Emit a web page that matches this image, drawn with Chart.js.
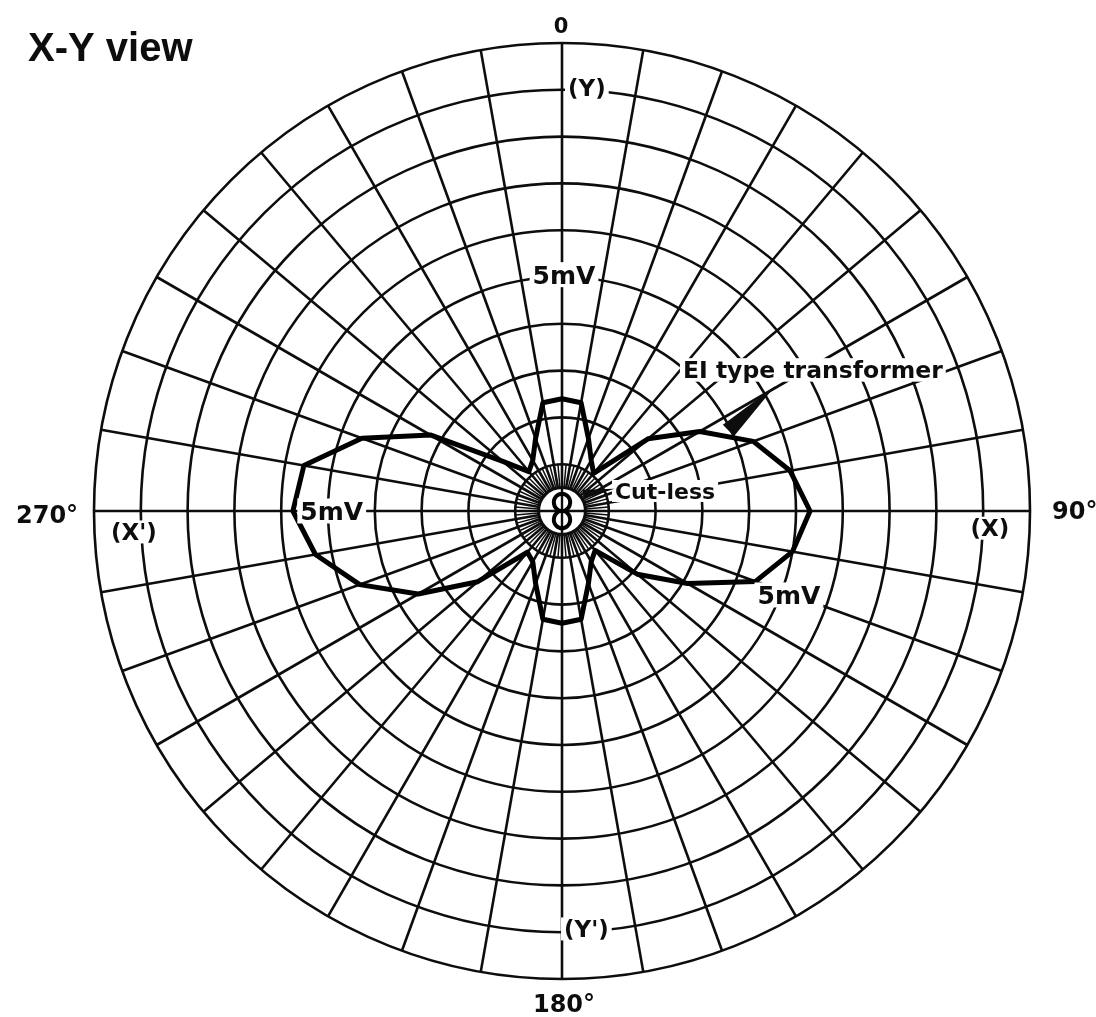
<!DOCTYPE html>
<html>
<head>
<meta charset="utf-8">
<title>X-Y view</title>
<script src="https://cdn.jsdelivr.net/npm/chart.js"></script>
<style>
  html, body { margin: 0; padding: 0; background: #fff; }
  canvas { display: block; }
</style>
</head>
<body>
<canvas id="polar" width="1096" height="1017"></canvas>
<script>
// bearing of each spoke, clockwise from the top (Y axis)
const angleLabels = ['0', '10', '20', '30', '40', '50', '60', '70', '80', '90', '100', '110',
  '120', '130', '140', '150', '160', '170', '180', '190', '200', '210', '220', '230',
  '240', '250', '260', '270', '280', '290', '300', '310', '320', '330', '340', '350'];

// leakage field in mV
const eiTransformer = [2.4, 2.35, 1.65, 1.25, 1.05, 2.4, 3.4, 4.35, 4.95, 5.3, 5.0, 4.4,
  3.1, 2.1, 1.1, 1.25, 1.65, 2.35, 2.4, 2.35, 1.65, 1.25, 1.15, 2.35,
  3.55, 4.6, 5.35, 5.75, 5.6, 4.55, 3.25, 1.65, 1.1, 1.25, 1.65, 2.35];

const cutLess = [0.37, 0.36, 0.34, 0.31, 0.27, 0.22, 0.17, 0.12, 0.07, 0.03, 0.07, 0.12,
  0.17, 0.22, 0.27, 0.31, 0.34, 0.36, 0.37, 0.36, 0.34, 0.31, 0.27, 0.22,
  0.17, 0.12, 0.07, 0.03, 0.07, 0.12, 0.17, 0.22, 0.27, 0.31, 0.34, 0.36];

const cardinalLabels = ['0', '90°', '180°', '270°'];
const axisNames = ['(Y)', '(X)', "(Y')", "(X')"];
const scaleLabel = '5mV';
const titleText = 'X-Y view';

const INK = '#0d0d0d';
const FONT = '"DejaVu Sans", sans-serif';

const label = (ctx, text, x, y, size, align, backdrop) => {
  ctx.font = 'bold ' + size + 'px ' + FONT;
  const w = ctx.measureText(text).width;
  const left = align === 'left' ? x : align === 'right' ? x - w : x - w / 2;
  if (backdrop) {
    ctx.fillStyle = '#fff';
    ctx.fillRect(left - 3, y - size * 0.5, w + 6, size);
  }
  ctx.fillStyle = INK;
  ctx.textAlign = 'left';
  ctx.textBaseline = 'alphabetic';
  ctx.fillText(text, left, y + size * 0.36);
};

const polarPoint = (scale, value, deg) => {
  const d = scale.getDistanceFromCenterForValue(value);
  const a = deg * Math.PI / 180;
  return { x: scale.xCenter + d * Math.sin(a), y: scale.yCenter - d * Math.cos(a) };
};

const wedge = (ctx, apex, base, halfWidth) => {
  const dx = apex.x - base.x, dy = apex.y - base.y;
  const len = Math.hypot(dx, dy);
  const nx = -dy / len * halfWidth, ny = dx / len * halfWidth;
  ctx.beginPath();
  ctx.moveTo(apex.x, apex.y);
  ctx.lineTo(base.x + nx, base.y + ny);
  ctx.lineTo(base.x - nx, base.y - ny);
  ctx.closePath();
  ctx.fill();
};

const overlay = {
  id: 'overlay',
  beforeDatasetsDraw(chart) {
    const ctx = chart.ctx;
    const r = chart.scales.r;
    const inner = r.getDistanceFromCenterForValue(0.5);
    ctx.save();
    // blank core, spokes stop at the inner ring
    ctx.fillStyle = '#fff';
    ctx.beginPath();
    ctx.arc(r.xCenter, r.yCenter, inner, 0, Math.PI * 2);
    ctx.fill();
    // dense hatching between 0.5 and 1 mV
    ctx.strokeStyle = INK;
    ctx.lineWidth = 1.5;
    for (let deg = 5; deg < 360; deg += 10) {
      const a = polarPoint(r, 0.5, deg);
      const b = polarPoint(r, 1, deg);
      ctx.beginPath();
      ctx.moveTo(a.x, a.y);
      ctx.lineTo(b.x, b.y);
      ctx.stroke();
    }
    ctx.lineWidth = 2.4;
    [[0, 180], [90, 270]].forEach(([p, q]) => {
      const a = polarPoint(r, 0.5, p);
      const b = polarPoint(r, 0.5, q);
      ctx.beginPath();
      ctx.moveTo(a.x, a.y);
      ctx.lineTo(b.x, b.y);
      ctx.stroke();
    });
    ctx.lineWidth = 3;
    ctx.beginPath();
    ctx.arc(r.xCenter, r.yCenter, inner, 0, Math.PI * 2);
    ctx.stroke();
    ctx.restore();
  },
  afterDatasetsDraw(chart) {
    const ctx = chart.ctx;
    const r = chart.scales.r;
    ctx.save();

    // 5mV ring marks
    let p = polarPoint(r, 5.05, 0);
    label(ctx, scaleLabel, p.x + 2, p.y, 25, 'center', true);
    p = polarPoint(r, 4.92, 270);
    label(ctx, scaleLabel, p.x, p.y, 25, 'center', true);
    p = polarPoint(r, 5.17, 110.3);
    label(ctx, scaleLabel, p.x, p.y, 25, 'center', true);

    // axis names
    p = polarPoint(r, 9.05, 0);
    label(ctx, axisNames[0], p.x + 6, p.y, 23, 'left', true);
    p = polarPoint(r, 9.15, 92.3);
    label(ctx, axisNames[1], p.x, p.y, 23, 'center', true);
    p = polarPoint(r, 8.93, 180);
    label(ctx, axisNames[2], p.x + 2, p.y, 23, 'left', true);
    p = polarPoint(r, 9.16, 267.2);
    label(ctx, axisNames[3], p.x, p.y, 23, 'center', true);

    // bearings outside the outer ring
    p = polarPoint(r, 10.37, 0);
    label(ctx, cardinalLabels[0], p.x - 1, p.y, 21, 'center', false);
    p = polarPoint(r, 10.47, 90);
    label(ctx, cardinalLabels[1], p.x, p.y - 1, 24, 'left', false);
    p = polarPoint(r, 10.53, 180);
    label(ctx, cardinalLabels[2], p.x + 2, p.y, 24, 'center', false);
    p = polarPoint(r, 10.34, 270);
    label(ctx, cardinalLabels[3], p.x, p.y + 3, 24, 'right', false);

    // curve call-outs
    p = polarPoint(r, 3.97, 40.6);
    label(ctx, chart.data.datasets[0].label, p.x, p.y, 23.5, 'left', true);
    ctx.fillStyle = INK;
    wedge(ctx, polarPoint(r, 5.28, 59.6), polarPoint(r, 3.95, 64.2), 8);

    p = polarPoint(r, 1.21, 69.3);
    label(ctx, chart.data.datasets[1].label, p.x, p.y, 22, 'left', true);
    ctx.fillStyle = INK;
    wedge(ctx, polarPoint(r, 1.22, 67), polarPoint(r, 0.58, 52), 4.5);

    // title
    ctx.font = 'bold 40px "Liberation Sans", Arial, sans-serif';
    ctx.fillStyle = INK;
    ctx.textAlign = 'left';
    ctx.textBaseline = 'alphabetic';
    ctx.fillText(titleText, 28, 61);
    ctx.restore();
  }
};

new Chart(document.getElementById('polar'), {
  type: 'radar',
  data: {
    labels: angleLabels,
    datasets: [
      {
        label: 'EI type transformer',
        data: eiTransformer,
        borderColor: '#000',
        borderWidth: 5,
        fill: false,
        pointRadius: 0,
        tension: 0
      },
      {
        label: 'Cut-less',
        data: cutLess,
        borderColor: '#000',
        borderWidth: 4,
        fill: false,
        pointRadius: 0,
        tension: 0.3
      }
    ]
  },
  options: {
    responsive: false,
    animation: false,
    events: [],
    layout: { padding: { left: 72, right: 44, top: 43, bottom: 38 } },
    elements: { line: { borderJoinStyle: 'round' } },
    plugins: {
      legend: { display: false },
      tooltip: { enabled: false }
    },
    scales: {
      r: {
        min: 0,
        max: 10,
        ticks: { display: false, stepSize: 1 },
        grid: { circular: true, color: '#0d0d0d', lineWidth: 2.6 },
        angleLines: { color: '#0d0d0d', lineWidth: 2.6 },
        pointLabels: { display: false }
      }
    }
  },
  plugins: [overlay]
});
</script>
</body>
</html>
